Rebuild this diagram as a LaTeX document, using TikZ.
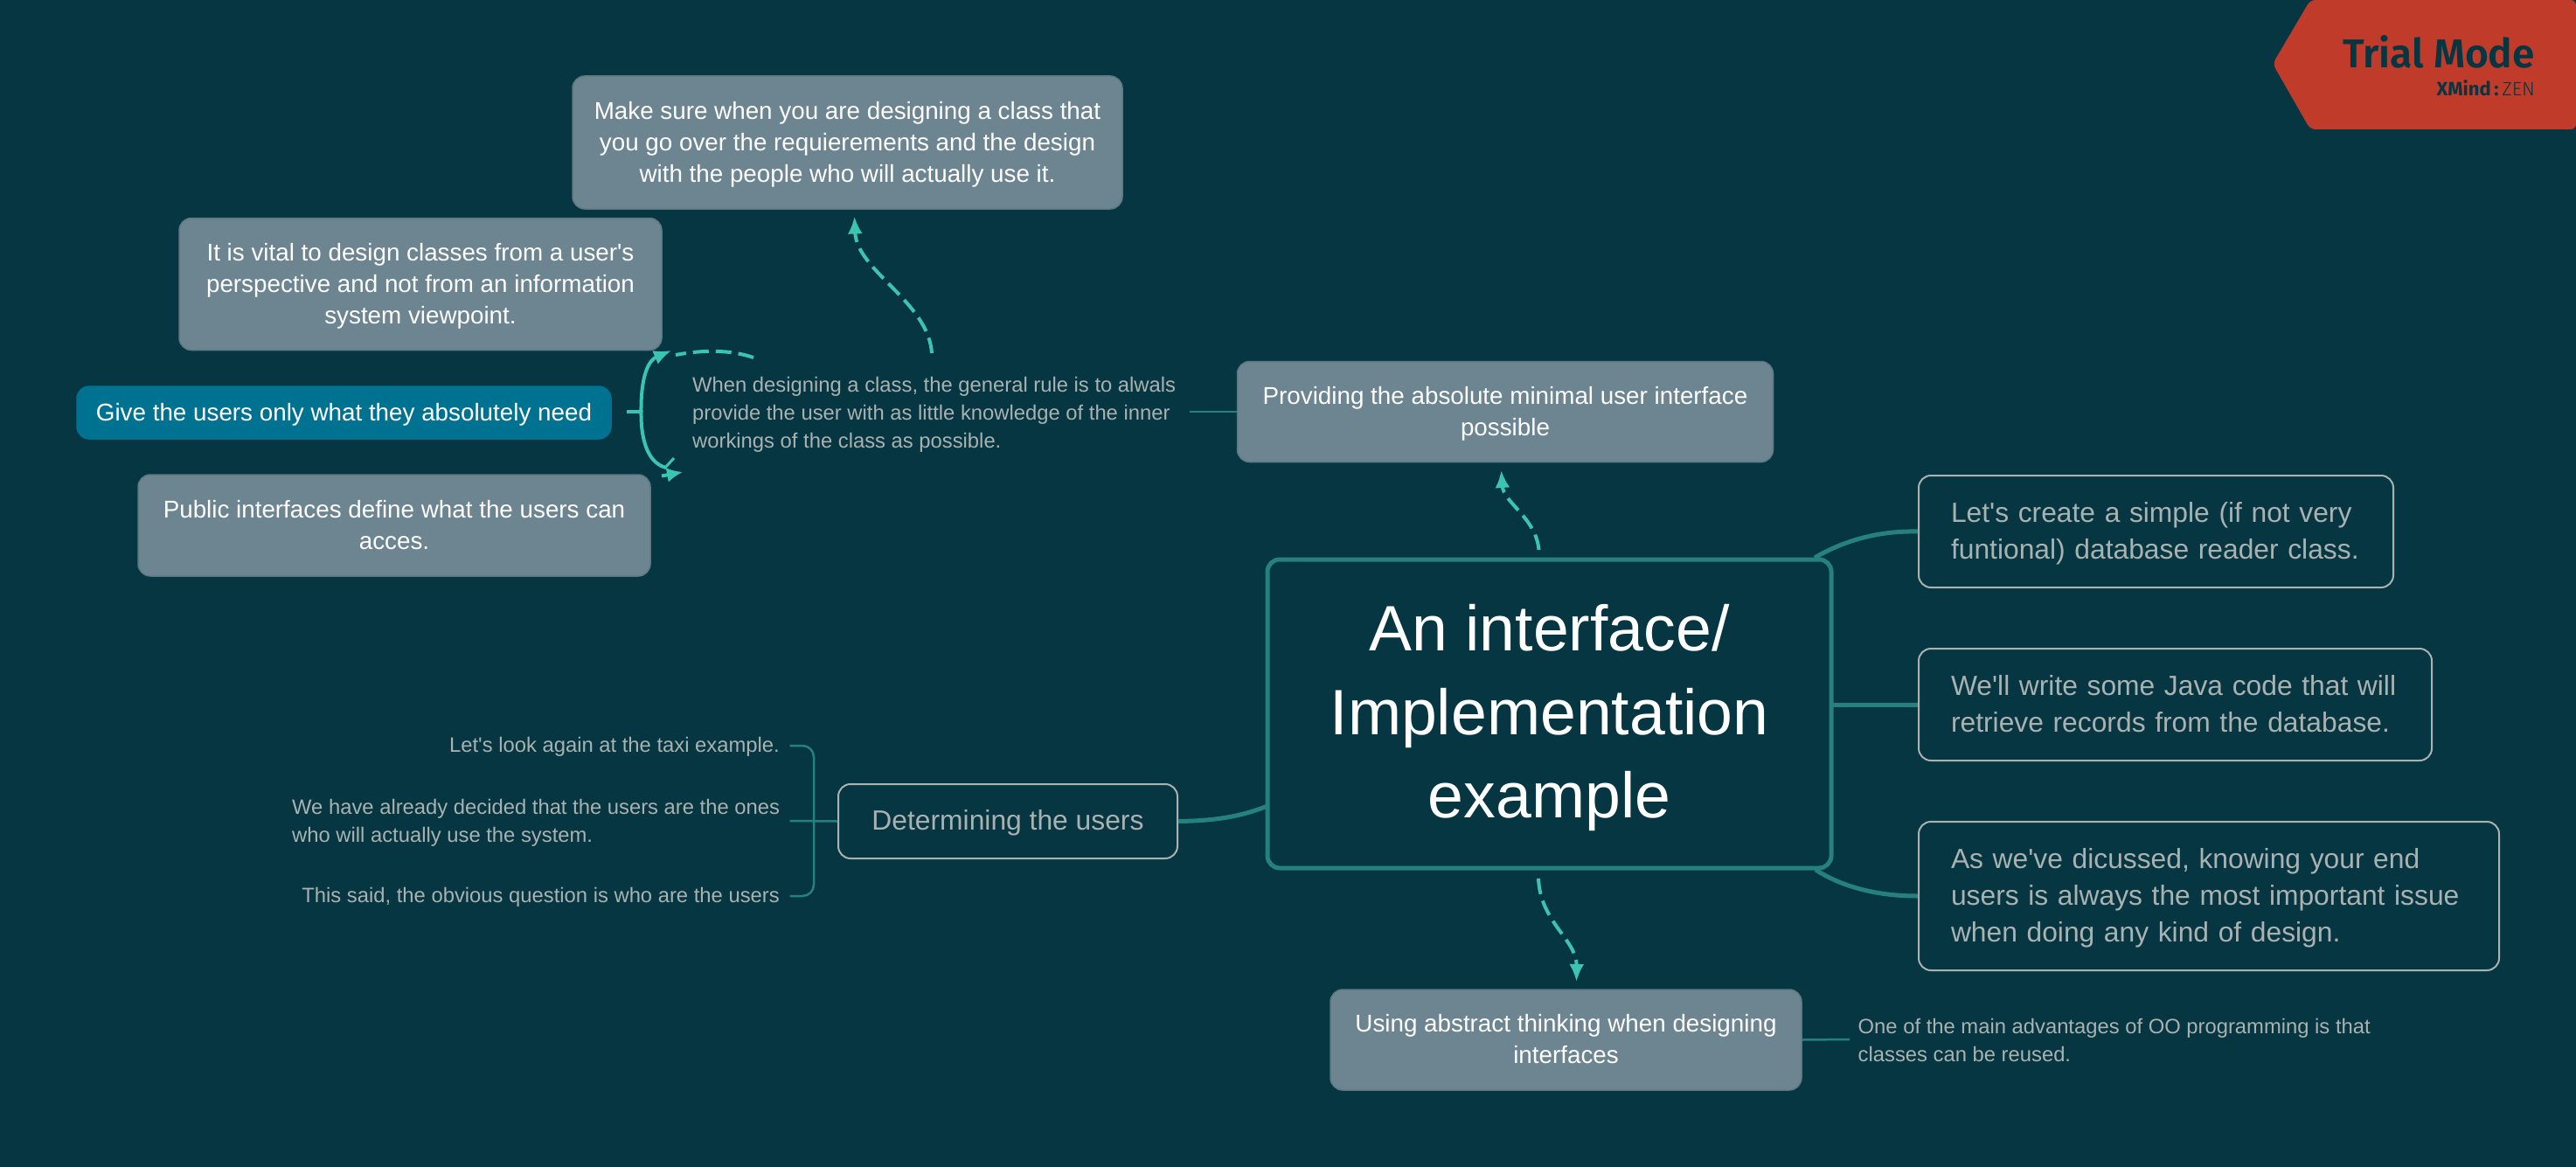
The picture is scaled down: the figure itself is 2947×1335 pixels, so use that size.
\documentclass[tikz,border=0pt]{standalone}
\usepackage{fontspec}
\setmainfont{Liberation Sans}
\newfontfamily\badgefont{Fira Sans}
\newfontfamily\badgesemi{Fira Sans SemiBold}
\newfontfamily\badgelight{Fira Sans Light}
\usetikzlibrary{arrows.meta,calc}
\definecolor{bgc}{HTML}{053642}
\definecolor{topicc}{HTML}{6C8590}
\definecolor{givec}{HTML}{007291}
\definecolor{linec}{HTML}{26807C}
\definecolor{relc}{HTML}{3BC4AF}
\definecolor{notec}{HTML}{A9B2B1}
\definecolor{badgec}{HTML}{C03B2A}
\newcommand\ap{\XeTeXglyph\XeTeXcharglyph"27\relax}
\newcommand\tcen[2]{\raisebox{\dimexpr-#1pt\relax}[\height][\depth]{\begin{tabular}{@{}c@{}}#2\end{tabular}}}
\newcommand\tlef[2]{\raisebox{\dimexpr-#1pt\relax}[\height][\depth]{\begin{tabular}{@{}l@{}}#2\end{tabular}}}
\newcommand\trig[2]{\raisebox{\dimexpr-#1pt\relax}[\height][\depth]{\begin{tabular}{@{}r@{}}#2\end{tabular}}}
\tikzset{
  topicbox/.style={fill=topicc,draw=topicc!85!bgc,line width=1.5pt,rounded corners=14pt,inner sep=0pt,text=white,font=\fontsize{27.8}{36}\selectfont},
  givebox/.style={topicbox,fill=givec,draw=givec},
  centerbox/.style={draw=linec,line width=5pt,rounded corners=14pt,inner sep=0pt,text=white,font=\fontsize{73.4}{95.5}\selectfont},
  childbox/.style={draw=notec,line width=2pt,rounded corners=14pt,inner sep=0pt,text=notec,font=\fontsize{31.8}{42}\selectfont},
  notetext/.style={inner sep=0pt,text=notec,font=\fontsize{23.8}{32}\selectfont},
  thick link/.style={draw=linec,line width=5pt},
  thin link/.style={draw=linec,line width=2.5pt},
  rel/.style={draw=relc,line width=4pt,dash pattern=on 18pt off 8pt,-{Latex[length=20pt,width=17pt]}},
  relplain/.style={draw=relc,line width=4pt},
}
\begin{document}
\begin{tikzpicture}[x=1pt,y=-1pt]
\fill[bgc] (0,0) rectangle (2947,1335);
\useasboundingbox (0,0) rectangle (2947,1335);
% badge
\fill[badgec,rounded corners=6pt] (2947,0) -- (2643,0) -- (2600,73) -- (2643,148) -- (2947,148) -- cycle;
\node[anchor=base east,inner sep=0pt,text=bgc,font=\badgesemi\fontsize{46}{46}\selectfont] (trial) at (2900,78) {Trial Mode};
\node[anchor=base east,inner sep=0pt,text=bgc,font=\fontsize{22}{22}\selectfont] (xmind) at (2900,110) {{\badgefont\bfseries XMind\,:}{\badgelight\,ZEN}};
% nodes
\node[centerbox,minimum width=645pt,minimum height=353pt] (c) at (1772.5,816.5) {\tcen{4.5}{An interface/\\Implementation\\example}};
\node[topicbox,minimum width=629pt,minimum height=152pt] (ms) at (969.5,163) {\tcen{2}{Make sure when you are designing a class that\\you go over the requierements and the design\\with the people who will actually use it.}};
\node[topicbox,minimum width=552pt,minimum height=151pt] (vital) at (481,325) {\tcen{2}{It is vital to design classes from a user\ap s\\perspective and not from an information\\system viewpoint.}};
\node[givebox,minimum width=611pt,minimum height=60pt] (give) at (393.5,472) {\tcen{2}{Give the users only what they absolutely need}};
\node[topicbox,minimum width=586pt,minimum height=116pt] (pub) at (451,601) {\tcen{2}{Public interfaces define what the users can\\acces.}};
\node[notetext,anchor=west] (rule) at (792,472) {\tlef{2}{When designing a class, the general rule is to alwals\\provide the user with as little knowledge of the inner\\workings of the class as possible.}};
\node[topicbox,minimum width=613pt,minimum height=115pt] (prov) at (1722,471) {\tcen{2}{Providing the absolute minimal user interface\\possible}};
\node[childbox,minimum width=543pt,minimum height=128pt,text width=469pt] (l) at (2466.5,608) {\tlef{2}{Let\ap s create a simple (if not very\\funtional) database reader class.}};
\node[childbox,minimum width=587pt,minimum height=128pt,text width=513pt] (w) at (2488.5,806) {\tlef{2}{We\ap ll write some Java code that will\\retrieve records from the database.}};
\node[childbox,minimum width=664pt,minimum height=170pt,text width=590pt] (a) at (2527,1025) {\tlef{2}{As we\ap ve dicussed, knowing your end\\users is always the most important issue\\when doing any kind of design.}};
\node[topicbox,minimum width=539pt,minimum height=115pt] (u) at (1791.5,1189.5) {\tcen{2}{Using abstract thinking when designing\\interfaces}};
\node[notetext,anchor=west] (oo) at (2125.5,1190) {\tlef{2}{One of the main advantages of OO programming is that\\classes can be reused.}};
\node[childbox,minimum width=388pt,minimum height=85pt] (d) at (1153,939.5) {\tcen{2}{Determining the users}};
\node[notetext,anchor=east] (taxi) at (892,852) {\trig{2}{Let\ap s look again at the taxi example.}};
\node[notetext,anchor=west] (dec) at (334,939.5) {\tlef{2}{We have already decided that the users are the ones\\who will actually use the system.}};
\node[notetext,anchor=east] (said) at (892,1024.5) {\trig{2}{This said, the obvious question is who are the users}};
% free ends
\coordinate (c1) at (2076,638);
\coordinate (c2) at (2095,806);
\coordinate (c3) at (2077,995);
\coordinate (c4) at (1450,922);
\coordinate (rs) at (1361,471);
\coordinate (oos) at (2116,1189);
\coordinate (dl) at (903.5,939);
\coordinate (bt) at (903.5,853);
\coordinate (bb) at (903.5,1025);
% thick links
\draw[thick link] (c1) .. controls (2110,618) and (2150,607) .. (l.west);
\draw[thick link] (c2) -- (w.west);
\draw[thick link] (c3) .. controls (2110,1016) and (2150,1025) .. (a.west);
\draw[thick link] (d.east) .. controls (1390,939) and (1420,934) .. (c4);
% thin links
\draw[thin link] (rs) -- (prov.west);
\draw[thin link] (u.east) -- (oos);
\draw[thin link] (d.west) -- (dl);
\draw[thin link,rounded corners=13pt] (bt) -- (931,853) -- (931,1025) -- (bb);
% relationships
\coordinate (r1s) at (1760.5,629);
\coordinate (r1e) at (1717.5,538);
\coordinate (r2s) at (1760,1005);
\coordinate (r2e) at (1803.5,1123);
\coordinate (r3s) at (1066,404);
\coordinate (r3e) at (977.5,247.5);
\draw[rel] (r1s) .. controls (1757,592) and (1720,575) .. (r1e);
\draw[rel] (r2s) .. controls (1762,1055) and (1804,1075) .. (r2e);
\draw[rel] (r3s) .. controls (1062,345) and (980,310) .. (r3e);
\coordinate (gs) at (717,471);
\coordinate (gm) at (733.5,471);
\coordinate (r4s) at (862,409);
\coordinate (r4e) at (773,406);
\coordinate (tipt) at (768,401);
\coordinate (gb) at (762,535);
\coordinate (tk1) at (771,524);
\coordinate (tk2) at (760,536);
\coordinate (ar1) at (757,544.5);
\coordinate (ar2) at (781,540);
\draw[relc,line width=4pt,dash pattern=on 18pt off 8pt] (r4s) .. controls (835,400) and (805,400) .. (r4e);
\draw[relplain] (gs) -- (gm);
\draw[relplain,-{Latex[length=20pt,width=17pt]}] (gm) .. controls (733,430) and (742,412) .. (tipt);
\draw[relplain] (gm) .. controls (733,505) and (742,530) .. (gb);
\draw[relc,line width=3pt] (tk1) -- (tk2);
\draw[relplain,-{Latex[length=18pt,width=17pt]}] (ar1) -- (ar2);
\end{tikzpicture}
\end{document}
